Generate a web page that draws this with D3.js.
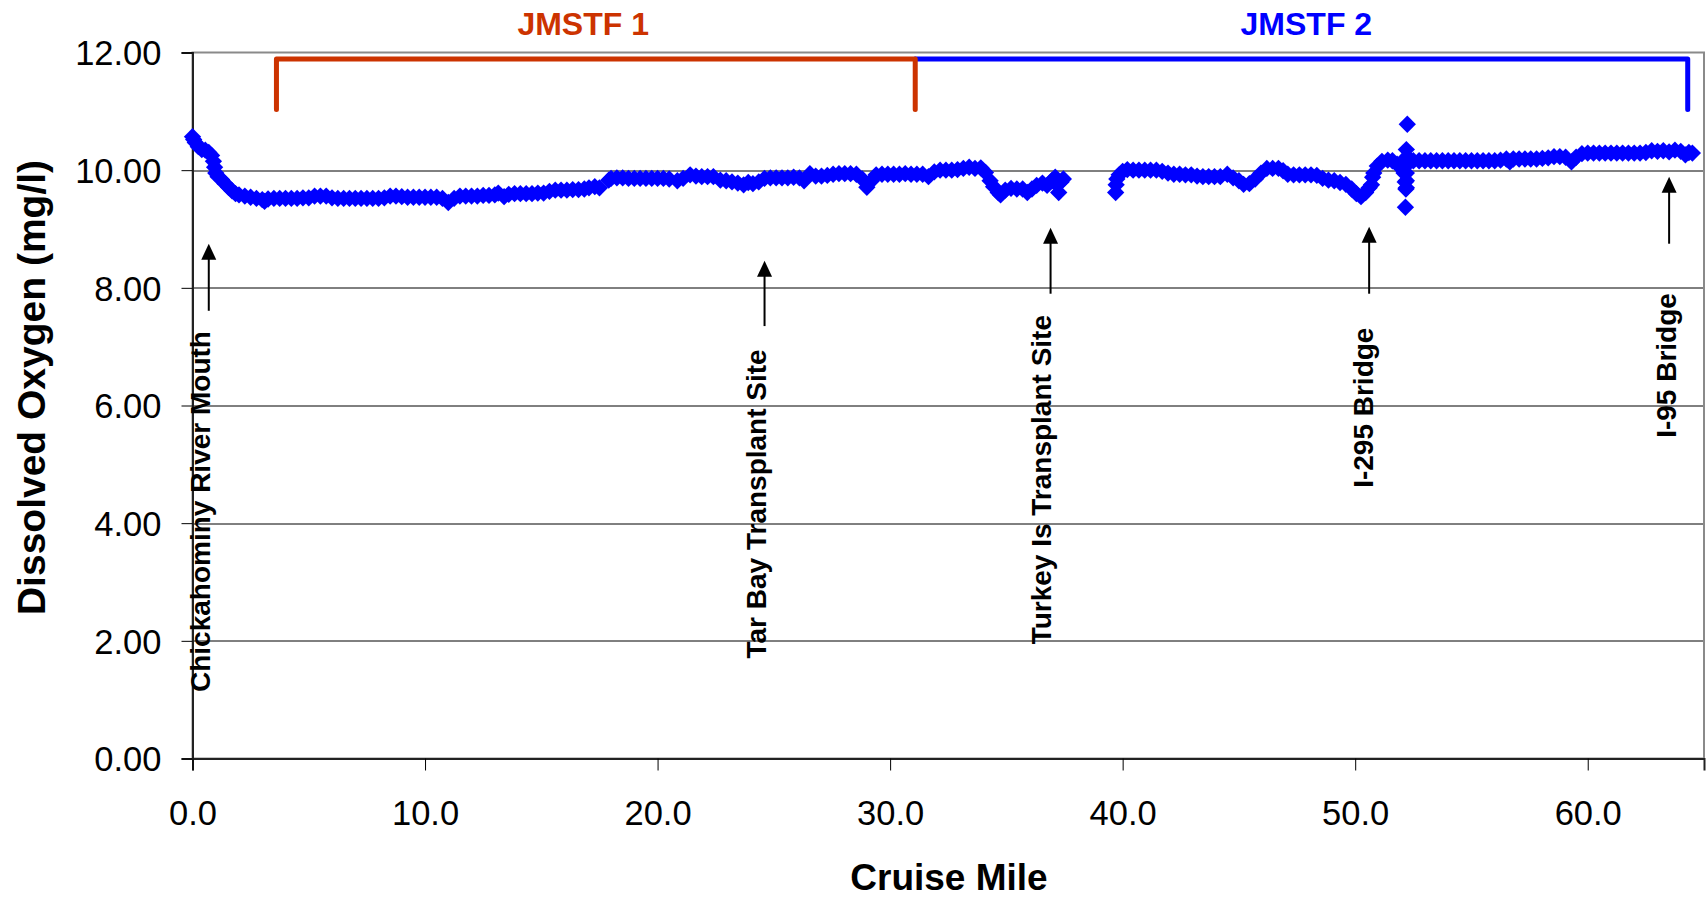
<!DOCTYPE html>
<html lang="en">
<head>
  <meta charset="UTF-8">
  <title>Dissolved Oxygen by Cruise Mile</title>
  <style>
    html, body {
      margin: 0;
      background: #fff;
      overflow: hidden;
      width: 100%;
      height: 100%;
    }
    svg {
      display: block;
      font-family: "Liberation Sans", Arial, sans-serif;
    }
  </style>
</head>
<body>
  <svg width="1706" height="899"></svg>
</body>
<script src="https://d3js.org/d3.v7.min.js"></script>
<script type="text/javascript">
  // [cruise mile, dissolved oxygen mg/l], three runs split by data gaps
  const run1 = [
    [0.00, 10.57], [0.05, 10.52], [0.12, 10.47], [0.25, 10.40], [0.40, 10.35], [0.55, 10.34],
    [0.70, 10.30], [0.82, 10.25], [0.90, 10.15], [0.95, 10.05], [1.00, 9.95], [1.10, 9.89],
    [1.25, 9.84], [1.40, 9.77], [1.55, 9.71], [1.70, 9.65], [1.85, 9.60], [2.00, 9.58],
    [2.25, 9.56], [2.50, 9.54], [2.75, 9.52], [3.00, 9.50], [3.10, 9.47], [3.25, 9.51],
    [3.50, 9.52], [3.75, 9.52], [4.00, 9.52], [4.25, 9.52], [4.50, 9.52], [4.75, 9.53],
    [5.00, 9.53], [5.25, 9.56], [5.50, 9.56], [5.75, 9.56], [6.00, 9.53], [6.25, 9.52],
    [6.50, 9.52], [6.75, 9.52], [7.00, 9.52], [7.25, 9.52], [7.50, 9.52], [7.75, 9.52],
    [8.00, 9.52], [8.25, 9.53], [8.50, 9.56], [8.75, 9.56], [9.00, 9.55], [9.25, 9.54],
    [9.50, 9.54], [9.75, 9.54], [10.00, 9.54], [10.25, 9.54], [10.50, 9.54], [10.75, 9.52],
    [11.00, 9.45], [11.25, 9.52], [11.50, 9.56], [11.75, 9.56], [12.00, 9.56], [12.25, 9.56],
    [12.50, 9.57], [12.75, 9.57], [13.00, 9.58], [13.15, 9.61], [13.40, 9.55], [13.60, 9.59],
    [13.85, 9.60], [14.10, 9.60], [14.35, 9.60], [14.60, 9.60], [14.85, 9.61], [15.10, 9.61],
    [15.35, 9.64], [15.60, 9.66], [15.85, 9.66], [16.10, 9.66], [16.35, 9.67], [16.60, 9.67],
    [16.85, 9.68], [17.05, 9.70], [17.30, 9.72], [17.50, 9.70]
  ]

  const run2 = [
    [17.90, 9.83], [18.00, 9.86], [18.25, 9.87], [18.50, 9.87], [18.75, 9.86], [19.00, 9.86],
    [19.25, 9.86], [19.50, 9.86], [19.75, 9.86], [20.00, 9.86], [20.25, 9.86], [20.50, 9.85],
    [20.85, 9.82], [21.10, 9.86], [21.40, 9.92], [21.65, 9.90], [21.90, 9.89], [22.15, 9.89],
    [22.40, 9.89], [22.70, 9.83], [22.95, 9.82], [23.20, 9.80], [23.45, 9.78], [23.70, 9.75],
    [23.90, 9.79], [24.10, 9.77], [24.35, 9.80], [24.60, 9.86], [24.85, 9.87], [25.10, 9.87],
    [25.35, 9.87], [25.60, 9.87], [25.85, 9.88], [26.10, 9.87], [26.30, 9.82], [26.55, 9.94],
    [26.80, 9.90], [27.05, 9.90], [27.30, 9.91], [27.55, 9.93], [27.80, 9.94], [28.05, 9.94],
    [28.30, 9.94], [28.55, 9.93], [28.80, 9.85], [29.00, 9.71], [29.20, 9.82], [29.40, 9.92],
    [29.65, 9.93], [29.90, 9.93], [30.15, 9.93], [30.40, 9.93], [30.65, 9.94], [30.90, 9.93],
    [31.15, 9.93], [31.40, 9.93], [31.65, 9.89], [31.90, 9.97], [32.15, 10.00], [32.40, 10.00],
    [32.65, 10.00], [32.90, 10.01], [33.15, 10.03], [33.40, 10.05], [33.65, 10.03], [33.90, 10.04],
    [34.10, 9.96], [34.30, 9.82], [34.45, 9.72], [34.65, 9.62], [34.75, 9.58], [34.95, 9.66],
    [35.20, 9.69], [35.45, 9.68], [35.70, 9.68], [35.90, 9.62], [36.10, 9.68], [36.30, 9.74],
    [36.55, 9.78], [36.75, 9.74], [36.95, 9.82], [37.10, 9.88], [37.15, 9.76], [37.25, 9.62],
    [37.35, 9.80], [37.45, 9.85]
  ]

  const run3 = [
    [39.70, 9.62], [39.72, 9.75], [39.75, 9.85], [39.85, 9.92], [40.00, 9.98], [40.20, 10.01],
    [40.45, 10.00], [40.70, 10.00], [40.95, 10.00], [41.20, 10.00], [41.45, 10.00], [41.70, 9.98],
    [41.95, 9.95], [42.20, 9.93], [42.45, 9.93], [42.70, 9.92], [42.95, 9.92], [43.20, 9.90],
    [43.45, 9.89], [43.70, 9.89], [43.95, 9.89], [44.20, 9.89], [44.50, 9.93], [44.75, 9.87],
    [45.00, 9.82], [45.20, 9.76], [45.45, 9.77], [45.70, 9.85], [45.95, 9.95], [46.20, 10.03],
    [46.45, 10.03], [46.70, 10.03], [46.90, 9.99], [47.10, 9.93], [47.35, 9.92], [47.60, 9.92],
    [47.85, 9.92], [48.10, 9.92], [48.35, 9.91], [48.60, 9.86], [48.85, 9.83], [49.10, 9.82],
    [49.35, 9.79], [49.60, 9.76], [49.85, 9.68], [50.05, 9.60], [50.25, 9.55], [50.45, 9.62],
    [50.60, 9.70], [50.70, 9.75], [50.75, 9.88], [50.80, 9.95], [50.95, 10.07], [51.15, 10.15],
    [51.40, 10.17], [51.60, 10.16], [51.80, 10.10], [52.00, 10.05], [52.10, 9.95], [52.15, 9.80],
    [52.18, 9.68], [52.16, 9.37], [52.20, 10.35], [52.20, 10.22], [52.20, 10.08], [52.20, 9.95],
    [52.20, 9.82], [52.20, 9.70], [52.24, 10.78], [52.30, 10.20], [52.50, 10.16], [52.75, 10.16],
    [53.00, 10.16], [53.25, 10.16], [53.50, 10.16], [53.75, 10.16], [54.00, 10.16], [54.25, 10.16],
    [54.50, 10.16], [54.75, 10.16], [55.00, 10.16], [55.25, 10.16], [55.50, 10.16], [55.75, 10.16],
    [56.00, 10.16], [56.25, 10.17], [56.50, 10.19], [56.65, 10.14], [56.80, 10.19], [57.05, 10.19],
    [57.30, 10.19], [57.55, 10.19], [57.80, 10.19], [58.05, 10.20], [58.30, 10.21], [58.55, 10.23],
    [58.80, 10.23], [59.05, 10.22], [59.30, 10.14], [59.50, 10.22], [59.75, 10.28], [60.00, 10.29],
    [60.25, 10.29], [60.50, 10.29], [60.75, 10.29], [61.00, 10.29], [61.25, 10.29], [61.50, 10.29],
    [61.75, 10.29], [62.00, 10.29], [62.25, 10.29], [62.50, 10.30], [62.75, 10.33], [63.00, 10.32],
    [63.25, 10.33], [63.50, 10.31], [63.75, 10.34], [64.00, 10.32], [64.20, 10.26], [64.35, 10.30],
    [64.50, 10.29]
  ]

  const xTicks = [0, 10, 20, 30, 40, 50, 60]
  const yTicks = [0, 2, 4, 6, 8, 10, 12]

  // landmarks: arrow mile, arrow tail/tip (mg/l), label baseline mile, label start (mg/l)
  const landmarks = [
    { name: 'Chickahominy River Mouth', mile: 0.70, tail: 7.61, tip: 8.75, labelMile: 0.74, labelAt: 1.13 },
    { name: 'Tar Bay Transplant Site', mile: 24.60, tail: 7.35, tip: 8.46, labelMile: 24.66, labelAt: 1.70 },
    { name: 'Turkey Is Transplant Site', mile: 36.90, tail: 7.90, tip: 9.02, labelMile: 36.90, labelAt: 1.94 },
    { name: 'I-295 Bridge', mile: 50.60, tail: 7.90, tip: 9.04, labelMile: 50.77, labelAt: 4.60 },
    { name: 'I-95 Bridge', mile: 63.50, tail: 8.75, tip: 9.89, labelMile: 63.80, labelAt: 5.45 }
  ]

  // study reaches: start/end mile, bracket top and leg bottom, label position
  const reaches = [
    { name: 'JMSTF 2', color: '#0000ff', from: 31.08, to: 64.30, top: 11.89, leg: 11.03, legs: [64.30], labelMile: 47.9 },
    { name: 'JMSTF 1', color: '#cc3300', from: 3.61, to: 31.08, top: 11.89, leg: 11.03, legs: [3.61, 31.08], labelMile: 16.8 }
  ]

  const svg = d3.select('svg')
  const margin = { top: 52.5, right: 2, bottom: 140.5, left: 192.5 }
  const width = 1706 - margin.left - margin.right
  const height = 899 - margin.top - margin.bottom

  const x = d3.scaleLinear().domain([0, 65]).range([0, width])
  const y = d3.scaleLinear().domain([0, 12]).range([height, 0])

  const g = svg.append('g')
    .attr('transform', 'translate(' + margin.left + ',' + margin.top + ')')

  // gridlines
  g.selectAll('line.grid')
    .data(yTicks.filter(d => d > 0 && d < 12))
    .enter()
    .append('line')
    .attr('class', 'grid')
    .attr('x1', 0)
    .attr('x2', width)
    .attr('y1', d => Math.round(y(d)) + 0.5)
    .attr('y2', d => Math.round(y(d)) + 0.5)
    .attr('stroke', '#000')
    .attr('stroke-width', 1)

  // plot area border
  g.append('rect')
    .attr('x', 0)
    .attr('y', 0)
    .attr('width', width)
    .attr('height', height)
    .attr('fill', 'none')
    .attr('stroke', '#8a8a8a')
    .attr('stroke-width', 2)

  // axes
  const yAxis = g.append('g')
    .call(d3.axisLeft(y).tickValues(yTicks).tickSize(11).tickPadding(20).tickFormat(d3.format('.2f')))
  const xAxis = g.append('g')
    .attr('transform', 'translate(0,' + height + ')')
    .call(d3.axisBottom(x).tickValues(xTicks).tickSize(12).tickPadding(30).tickFormat(d3.format('.1f')))

  ;[yAxis, xAxis].forEach(ax => {
    ax.select('.domain').attr('stroke', '#222').attr('stroke-width', 2)
    ax.selectAll('.tick line').attr('stroke', '#000').attr('stroke-width', 1)
    ax.selectAll('.tick text')
      .attr('fill', '#000')
      .style('font-size', '34.5px')
      .style('font-family', '"Liberation Sans", Arial, sans-serif')
  })
  yAxis.selectAll('.tick text').attr('dy', '0.36em')

  // axis titles
  svg.append('text')
    .attr('transform', 'translate(45,' + (margin.top + height / 2 - 18) + ') rotate(-90)')
    .attr('text-anchor', 'middle')
    .style('font-size', '39px')
    .style('font-weight', 'bold')
    .text('Dissolved Oxygen (mg/l)')

  svg.append('text')
    .attr('x', 949)
    .attr('y', 890)
    .attr('text-anchor', 'middle')
    .style('font-size', '37px')
    .style('font-weight', 'bold')
    .text('Cruise Mile')

  // data points (diamonds)
  const diamond = d3.symbol().type(d3.symbolSquare).size(150)
  const points = run1.concat(run2, run3)

  g.append('g')
    .selectAll('path')
    .data(points)
    .enter()
    .append('path')
    .attr('d', diamond)
    .attr('fill', '#0000ff')
    .attr('transform', d => 'translate(' + x(d[0]) + ',' + y(d[1]) + ') rotate(45)')

  // reach brackets
  reaches.forEach(r => {
    const path = d3.path()
    path.moveTo(x(r.from), y(r.top))
    path.lineTo(x(r.to), y(r.top))
    r.legs.forEach(m => {
      path.moveTo(x(m), y(r.top))
      path.lineTo(x(m), y(r.leg))
    })
    g.append('path')
      .attr('d', path.toString())
      .attr('fill', 'none')
      .attr('stroke', r.color)
      .attr('stroke-width', 5)
      .attr('stroke-linecap', 'round')
      .attr('stroke-linejoin', 'round')

    svg.append('text')
      .attr('x', margin.left + x(r.labelMile))
      .attr('y', 35)
      .attr('text-anchor', 'middle')
      .attr('fill', r.color)
      .style('font-size', '32px')
      .style('font-weight', 'bold')
      .text(r.name)
  })

  // landmark arrows and labels
  const marks = g.selectAll('g.mark')
    .data(landmarks)
    .enter()
    .append('g')
    .attr('class', 'mark')

  marks.append('line')
    .attr('x1', d => x(d.mile))
    .attr('x2', d => x(d.mile))
    .attr('y1', d => y(d.tail))
    .attr('y2', d => y(d.tip) + 12)
    .attr('stroke', '#000')
    .attr('stroke-width', 2)

  marks.append('path')
    .attr('d', d => {
      const px = x(d.mile)
      const py = y(d.tip)
      return 'M' + px + ',' + py + 'L' + (px + 7.5) + ',' + (py + 16) + 'L' + (px - 7.5) + ',' + (py + 16) + 'Z'
    })
    .attr('fill', '#000')

  marks.append('text')
    .attr('transform', d => 'translate(' + x(d.labelMile) + ',' + y(d.labelAt) + ') rotate(-90)')
    .attr('text-anchor', 'start')
    .style('font-size', '28px')
    .style('font-weight', 'bold')
    .text(d => d.name)
</script>
</html>
